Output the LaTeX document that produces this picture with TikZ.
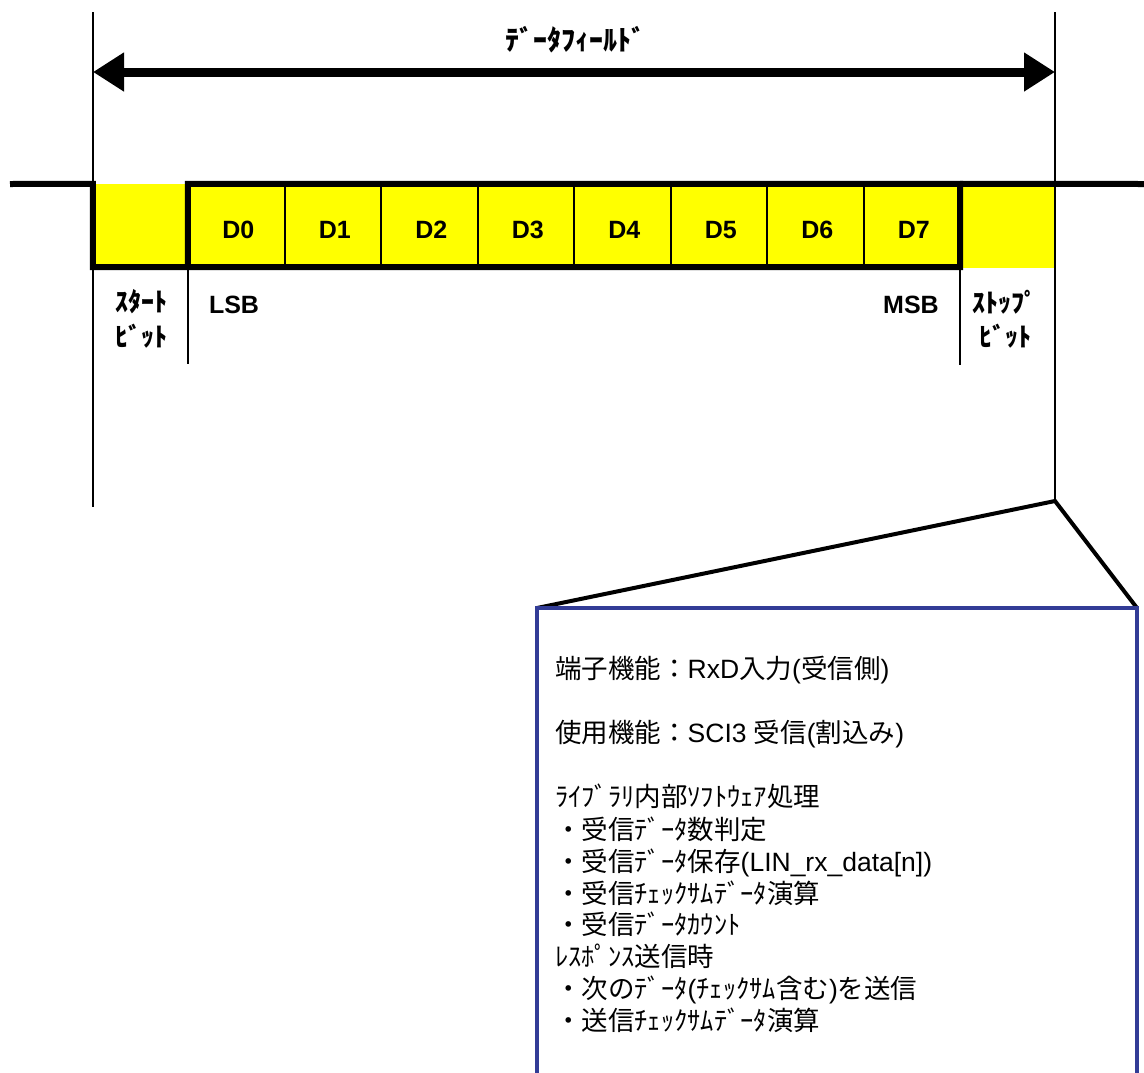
\documentclass[tikz,border=0pt]{standalone}
\usepackage{fontspec}
\setmainfont{Liberation Sans}
\newfontfamily\jp{Noto Sans CJK JP}
\usetikzlibrary{arrows.meta}
\definecolor{boxblue}{RGB}{50,60,150}
\definecolor{bityellow}{RGB}{255,255,0}
\begin{document}
\begin{tikzpicture}[x=1pt,y=-1pt,
  sig/.style={line width=6pt, line join=miter},
  guide/.style={line width=2.2pt},
  divider/.style={line width=2.2pt},
  bigarrow/.style={line width=9pt, {Triangle[length=31pt,width=37pt]}-{Triangle[length=31pt,width=37pt]}},
  zoomline/.style={line width=4pt, line join=miter},
  bluebox/.style={draw=boxblue, line width=3.2pt},
  cellfill/.style={fill=bityellow, draw=none, inner sep=0pt},
  dlabel/.style={font=\fontsize{25}{29}\selectfont\bfseries, inner sep=0pt},
  kanalabel/.style={font=\fontsize{26}{30}\selectfont\jp\bfseries, inner sep=0pt},
  boxtext/.style={anchor=base west, inner sep=0pt, font=\fontsize{26.5}{31}\selectfont},
  jpt/.style={},
]
\useasboundingbox (0,0) rectangle (1144,1072);

% cells
\node[cellfill, minimum width=95pt, minimum height=83pt] (sb) at (140.5,225.5) {};
\foreach \i in {0,...,7} {
  \node[cellfill, minimum width=96.5pt, minimum height=83pt] (c\i) at (236.25+96.5*\i,225.5) {};
  \node[dlabel] (d\i) at ([xshift=2pt,yshift=-4.5pt]c\i.center) {D\i};
}
\node[cellfill, minimum width=95pt, minimum height=84pt] (eb) at (1007.5,226) {};

% dividers
\foreach \i in {0,...,6} {
  \draw[divider] (c\i.north east) -- (c\i.south east);
}

% signal
\draw[sig] (10,184) -- (sb.north west) -- (sb.south west) -- (c0.south west) -- (c0.north west)
  -- (c7.north east) -- (c7.south east) -- (c0.south west);
\draw[sig] (c7.north east) -- (1144,184);

% guide lines
\coordinate (lt) at (93,12);
\coordinate (lb) at (93,507);
\coordinate (rt) at (1055,12);
\coordinate (apex) at (1055,501);
\draw[guide] (lt) -- (lb);
\draw[guide] (rt) -- (apex);
\draw[guide] (c0.south west) -- ++(0,97);
\draw[guide] (c7.south east) -- ++(0,98);

% data field arrow
\coordinate (al) at (93,72);
\coordinate (ar) at (1055,72);
\draw[bigarrow] (al) -- (ar);
\node[kanalabel, font=\fontsize{28}{32}\selectfont\jp\bfseries] (title) at (575,40) {ﾃﾞｰﾀﾌｨｰﾙﾄﾞ};

% bit labels
\node[kanalabel] (st1) at (141,302) {ｽﾀｰﾄ};
\node[kanalabel] (st2) at (141,336) {ﾋﾞｯﾄ};
\node[kanalabel] (sp1) at (1005,302) {ｽﾄｯﾌﾟ};
\node[kanalabel] (sp2) at (1005,336) {ﾋﾞｯﾄ};
\node[dlabel] (lsb) at (234,305) {LSB};
\node[dlabel] (msb) at (911,305) {MSB};

% zoom box
\coordinate (bxl) at (537,608);
\coordinate (bxr) at (1137,608);
\coordinate (bxlb) at (537,1080);
\coordinate (bxrb) at (1137,1080);
\draw[zoomline] (bxl) -- (apex) -- (bxr);
\draw[bluebox] (bxlb) -- (bxl) -- (bxr) -- (bxrb);

\node[boxtext] (t1) at (555,678) {{\jp 端子機能：}RxD{\jp 入力}({\jp 受信側})};
\node[boxtext] (t2) at (555,742) {{\jp 使用機能：}SCI3 {\jp 受信}({\jp 割込み})};
\node[boxtext] (t3) at (555,806) {{\jp ﾗｲﾌﾞﾗﾘ内部ｿﾌﾄｳｪｱ処理}};
\node[boxtext] (t4) at (555,839) {{\jp ・受信ﾃﾞｰﾀ数判定}};
\node[boxtext] (t5) at (555,871) {{\jp ・受信ﾃﾞｰﾀ保存}(LIN\_rx\_data[n])};
\node[boxtext] (t6) at (555,903) {{\jp ・受信ﾁｪｯｸｻﾑﾃﾞｰﾀ演算}};
\node[boxtext] (t7) at (555,934) {{\jp ・受信ﾃﾞｰﾀｶｳﾝﾄ}};
\node[boxtext] (t8) at (555,966) {{\jp ﾚｽﾎﾟﾝｽ送信時}};
\node[boxtext] (t9) at (555,998) {{\jp ・次のﾃﾞｰﾀ}({\jp ﾁｪｯｸｻﾑ含む}){\jp を送信}};
\node[boxtext] (t10) at (555,1030) {{\jp ・送信ﾁｪｯｸｻﾑﾃﾞｰﾀ演算}};
\end{tikzpicture}
\end{document}
